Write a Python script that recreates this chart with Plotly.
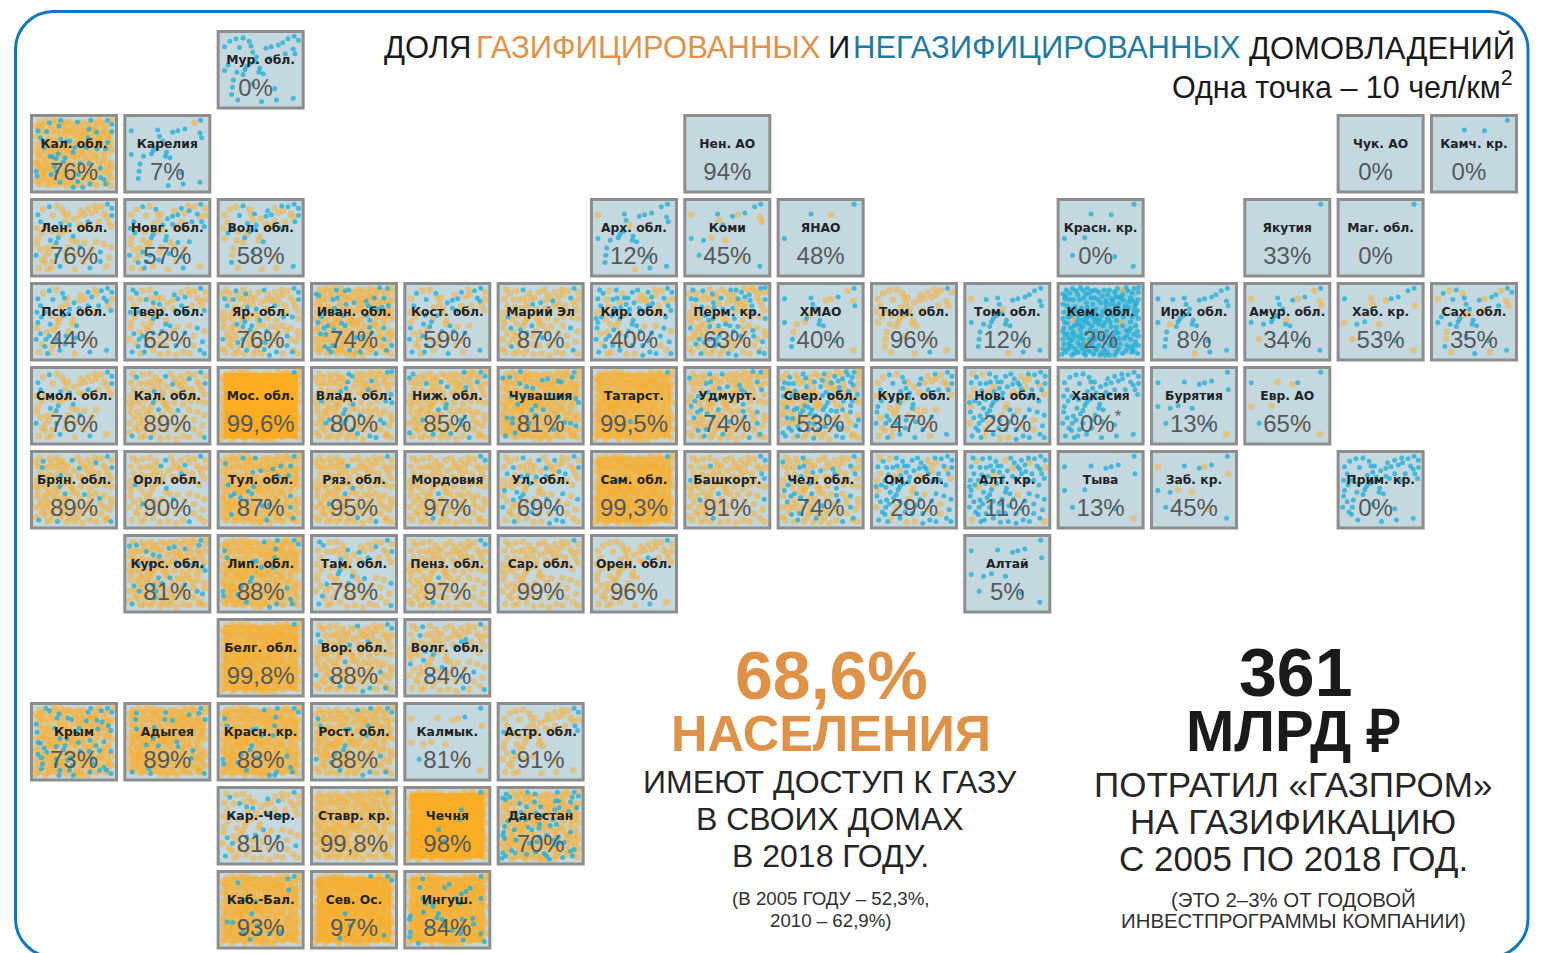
import plotly.graph_objects as go

# ---- data ----
cell_names = [
    "Мур. обл.",
    "Кал. обл.", "Карелия", "Нен. АО", "Чук. АО", "Камч. кр.",
    "Лен. обл.", "Новг. обл.", "Вол. обл.", "Арх. обл.", "Коми", "ЯНАО", "Красн. кр.", "Якутия", "Маг. обл.",
    "Пск. обл.", "Твер. обл.", "Яр. обл.", "Иван. обл.", "Кост. обл.", "Марий Эл", "Кир. обл.", "Перм. кр.",
    "ХМАО", "Тюм. обл.", "Том. обл.", "Кем. обл.", "Ирк. обл.", "Амур. обл.", "Хаб. кр.", "Сах. обл.",
    "Смол. обл.", "Кал. обл.", "Мос. обл.", "Влад. обл.", "Ниж. обл.", "Чувашия", "Татарст.", "Удмурт.",
    "Свер. обл.", "Кург. обл.", "Нов. обл.", "Хакасия", "Бурятия", "Евр. АО",
    "Брян. обл.", "Орл. обл.", "Тул. обл.", "Ряз. обл.", "Мордовия", "Ул. обл.", "Сам. обл.", "Башкорт.",
    "Чел. обл.", "Ом. обл.", "Алт. кр.", "Тыва", "Заб. кр.", "Прим. кр.",
    "Курс. обл.", "Лип. обл.", "Там. обл.", "Пенз. обл.", "Сар. обл.", "Орен. обл.", "Алтай",
    "Белг. обл.", "Вор. обл.", "Волг. обл.",
    "Крым", "Адыгея", "Красн. кр.", "Рост. обл.", "Калмык.", "Астр. обл.",
    "Кар.-Чер.", "Ставр. кр.", "Чечня", "Дагестан",
    "Каб.-Бал.", "Сев. Ос.", "Ингуш.",
]
cell_rows = [0] + [1]*5 + [2]*9 + [3]*16 + [4]*14 + [5]*14 + [6]*7 + [7]*3 + [8]*6 + [9]*4 + [10]*3
cell_cols = [
    2,
    0, 1, 7, 14, 15,
    0, 1, 2, 6, 7, 8, 11, 13, 14,
    0, 1, 2, 3, 4, 5, 6, 7, 8, 9, 10, 11, 12, 13, 14, 15,
    0, 1, 2, 3, 4, 5, 6, 7, 8, 9, 10, 11, 12, 13,
    0, 1, 2, 3, 4, 5, 6, 7, 8, 9, 10, 11, 12, 14,
    1, 2, 3, 4, 5, 6, 10,
    2, 3, 4,
    0, 1, 2, 3, 4, 5,
    2, 3, 4, 5,
    2, 3, 4,
]
gas_share = [
    0,
    76, 7, 94, 0, 0,
    76, 57, 58, 12, 45, 48, 0, 33, 0,
    44, 62, 76, 74, 59, 87, 40, 63, 40, 96, 12, 2, 8, 34, 53, 35,
    76, 89, 99.6, 80, 85, 81, 99.5, 74, 53, 47, 29, 0, 13, 65,
    89, 90, 87, 95, 97, 69, 99.3, 91, 74, 29, 11, 13, 45, 0,
    81, 88, 78, 97, 99, 96, 5,
    99.8, 88, 84,
    73, 89, 88, 88, 81, 91,
    81, 99.8, 98, 70,
    93, 97, 84,
]
# how many dots each cell shows (by eye)
dot_counts = [
    40,
    200, 26, 0, 0, 3,
    80, 75, 55, 26, 18, 4, 8, 1, 1,
    70, 90, 130, 190, 75, 110, 100, 140, 24, 50, 30, 215, 30, 22, 16, 40,
    75, 110, 215, 140, 140, 200, 215, 140, 160, 75, 100, 70, 14, 10,
    130, 100, 200, 130, 120, 100, 215, 110, 130, 100, 100, 12, 14, 60,
    150, 200, 90, 110, 100, 70, 14,
    215, 120, 100,
    215, 200, 215, 160, 14, 65,
    90, 160, 215, 215,
    215, 215, 215,
]
# how solid the colour reads behind the dots in the densest cells (by eye)
density_tint = [
    0,
    .30, 0, 0, 0, 0,
    0, 0, 0, 0, 0, 0, 0, 0, 0,
    0, 0, 0, .20, 0, 0, 0, 0, 0, 0, 0, .30, 0, 0, 0, 0,
    0, .05, 1.0, .10, .10, .30, .55, .10, 0, 0, 0, 0, 0, 0,
    .10, 0, .30, .10, .05, 0, .60, .05, 0, 0, 0, 0, 0, 0,
    .15, .35, 0, .05, 0, 0, 0,
    .60, .15, 0,
    .30, .40, .45, .20, 0, 0,
    0, .25, .95, .20,
    .50, .75, .70,
]
# positions inside a cell (0-1); the source reuses one layout, sparse cells show its first dots
dot_layout = [
    (.88,.08),(.39,.20),(.62,.21),(.09,.51),(.32,.50),(.18,.72),(.66,.74),(.87,.86),
    (.09,.21),(.56,.23),(.70,.19),(.89,.30),(.23,.53),(.48,.53),
    (.81,.11),(.41,.28),(.45,.34),(.87,.24),(.34,.46),(.38,.42),(.49,.48),(.53,.55),(.19,.63),(.17,.81),(.51,.90),(.68,.88),
    (.26,.22),(.75,.16),(.44,.40),(.30,.56),(.13,.44),(.60,.36),(.78,.30),(.93,.13),(.24,.88),(.41,.68),
    (.15,.14),(.22,.11),(.30,.10),(.37,.14),(.43,.20),(.12,.30),(.17,.38),(.25,.42),(.08,.38),(.35,.32),
    (.50,.26),(.58,.16),(.66,.13),(.74,.10),(.66,.30),(.56,.33),(.72,.38),(.84,.20),(.93,.22),(.92,.36),
    (.08,.58),(.12,.65),(.07,.72),(.14,.78),(.22,.68),(.27,.60),(.30,.72),(.10,.88),(.20,.90),(.26,.80),
    (.34,.86),(.40,.78),(.44,.62),(.52,.70),(.57,.62),(.60,.80),(.62,.56),(.70,.64),(.75,.55),(.80,.68),
    (.84,.58),(.92,.62),(.90,.75),(.80,.80),(.75,.90),(.92,.90),(.42,.91),(.60,.92),(.34,.64),(.48,.80),
    (.11,.10),(.19,.22),(.31,.20),(.34,.26),(.48,.13),(.54,.10),(.64,.24),(.71,.27),(.80,.38),(.86,.44),
    (.28,.33),(.21,.31),(.07,.46),(.18,.47),(.40,.55),(.46,.46),(.58,.46),(.68,.48),(.76,.44),(.93,.46),
    (.07,.84),(.16,.58),(.24,.76),(.31,.90),(.37,.72),(.45,.86),(.55,.76),(.65,.68),(.72,.78),(.84,.72),
    (.86,.88),(.93,.68),(.79,.61),(.68,.57),(.54,.85),(.36,.80),(.13,.70),(.20,.55),(.29,.48),(.38,.60),
    (.07,.15),(.14,.22),(.24,.16),(.33,.15),(.44,.10),(.52,.18),(.60,.10),(.69,.08),(.79,.07),(.93,.07),
    (.86,.14),(.76,.23),(.70,.33),(.61,.28),(.52,.37),(.41,.35),(.31,.38),(.22,.36),(.07,.28),(.15,.34),
    (.82,.32),(.90,.41),(.84,.50),(.73,.52),(.64,.42),(.55,.51),(.44,.50),(.36,.52),(.26,.54),(.12,.52),
    (.07,.62),(.18,.66),(.28,.66),(.43,.73),(.49,.64),(.60,.69),(.67,.62),(.77,.71),(.88,.66),(.93,.80),
    (.84,.82),(.70,.84),(.65,.80),(.57,.88),(.49,.92),(.38,.87),(.29,.84),(.21,.84),(.13,.84),(.08,.78),
    (.10,.17),(.18,.08),(.27,.07),(.35,.08),(.40,.11),(.47,.22),(.56,.27),(.67,.19),(.73,.20),(.82,.25),
    (.91,.27),(.88,.36),(.77,.34),(.68,.40),(.61,.50),(.51,.42),(.42,.46),(.33,.42),(.24,.48),(.16,.42),
    (.09,.66),(.16,.74),(.26,.70),(.35,.76),(.46,.70),(.55,.68),(.62,.75),(.71,.71),(.82,.62),(.90,.55),
    (.88,.80),(.79,.86),(.66,.92),(.55,.92),(.44,.83),(.33,.92),(.17,.92),(.06,.91),(.30,.78),(.75,.62),
]
# word, left edge in page pixels, colour
header_parts = [("ДОЛЯ", 382, "#1a1a1a"), ("ГАЗИФИЦИРОВАННЫХ", 474, "#df9247"), ("И", 826, "#1a1a1a"),
                ("НЕГАЗИФИЦИРОВАННЫХ", 851, "#1f7c9e"), ("ДОМОВЛАДЕНИЙ", 1247, "#1a1a1a")]
header_note = "Одна точка – 10 чел/км<sup>2</sup>"
# text, centre x in page pixels, centre y, size, bold, colour
text_lines = [
    ("68,6%", 831, 675, 68, True, "#df9247"),
    ("НАСЕЛЕНИЯ", 831, 733, 50.5, True, "#df9247"),
    ("ИМЕЮТ ДОСТУП К ГАЗУ", 830, 782, 32, False, "#262626"),
    ("В СВОИХ ДОМАХ", 830, 819, 32, False, "#262626"),
    ("В 2018 ГОДУ.", 830, 856, 32, False, "#262626"),
    ("(В 2005 ГОДУ – 52,3%,", 831, 898, 18.7, False, "#303030"),
    ("2010 – 62,9%)", 831, 920, 18.7, False, "#303030"),
    ("361", 1295, 672, 68, True, "#1a1a1a"),
    ("МЛРД ₽", 1293, 730, 58, True, "#1a1a1a"),
    ("ПОТРАТИЛ «ГАЗПРОМ»", 1293, 784, 35, False, "#262626"),
    ("НА ГАЗИФИКАЦИЮ", 1293, 821, 35, False, "#262626"),
    ("С 2005 ПО 2018 ГОД.", 1293, 858, 35, False, "#262626"),
    ("(ЭТО 2–3% ОТ ГОДОВОЙ", 1293, 899, 20.4, False, "#303030"),
    ("ИНВЕСТПРОГРАММЫ КОМПАНИИ)", 1293, 921, 20.4, False, "#303030"),
]
footnoted = ["Хакасия"]

# ---- layout constants ----
W, H = 1543, 953
COL_PX, ROW_PX = 93.33, 84.0
LEFT_PX, TOP_PX = 30.0, 30.0
CELL_W, CELL_H = 88 / COL_PX, 79.5 / ROW_PX
SANS = "Arial, Liberation Sans, sans-serif"
ORANGE, BLUE = "rgba(252,172,40,0.50)", "rgba(28,172,214,0.75)"


def px(x):
    return x / W


def py(y):
    return 1 - y / H


# ---- build marks ----
shapes, ox, oy, bx, by = [], [], [], [], []
for col, row, share, count, tint in zip(cell_cols, cell_rows, gas_share, dot_counts, density_tint):
    b_x, b_y = 1.5 / COL_PX, 1.5 / ROW_PX
    shapes.append(dict(type="rect", xref="x", yref="y", layer="below",
                       x0=col + b_x, x1=col + CELL_W - b_x, y0=row + b_y, y1=row + CELL_H - b_y,
                       fillcolor="#c4d8df", line=dict(color="#8d8d8d", width=3)))
    if tint:
        colour = "#fcae1e" if share > 50 else "#12a5d0"
        i_x, i_y = 7 / COL_PX, 7 / ROW_PX
        shapes.append(dict(type="rect", xref="x", yref="y", layer="below",
                           x0=col + i_x, x1=col + CELL_W - i_x, y0=row + i_y, y1=row + CELL_H - i_y,
                           fillcolor=colour, opacity=tint, line=dict(width=0)))
    s = share / 100
    for i, (fx, fy) in enumerate(dot_layout[:count]):
        x, y = col + fx * CELL_W, row + fy * CELL_H
        if int((i + 1) * s) > int(i * s):
            ox.append(x); oy.append(y)
        else:
            bx.append(x); by.append(y)

frame_l, frame_r, frame_t, frame_b, r = 15.5, 1528, 11.5, 957, 38
k = r * 0.45
frame = (
    f"M {px(frame_l)},{py(frame_t + r)} "
    f"C {px(frame_l)},{py(frame_t + k)} {px(frame_l + k)},{py(frame_t)} {px(frame_l + r)},{py(frame_t)} "
    f"L {px(frame_r - r)},{py(frame_t)} "
    f"C {px(frame_r - k)},{py(frame_t)} {px(frame_r)},{py(frame_t + k)} {px(frame_r)},{py(frame_t + r)} "
    f"L {px(frame_r)},{py(frame_b - r)} "
    f"C {px(frame_r)},{py(frame_b - k)} {px(frame_r - k)},{py(frame_b)} {px(frame_r - r)},{py(frame_b)} "
    f"L {px(frame_l + r)},{py(frame_b)} "
    f"C {px(frame_l + k)},{py(frame_b)} {px(frame_l)},{py(frame_b - k)} {px(frame_l)},{py(frame_b - r)} Z"
)
shapes.append(dict(type="path", xref="paper", yref="paper", layer="below", path=frame,
                   line=dict(color="#0f78bf", width=3)))


def pct_label(name, v):
    label = f"{v:g}".replace(".", ",") + "%"
    return label + "<sup>*</sup>" if name in footnoted else label


centre_x = [c + CELL_W / 2 for c in cell_cols]
pct_x = [c + CELL_W / 2 - (0.054 if (v == 0 and n not in footnoted) else 0)
         for c, v, n in zip(cell_cols, gas_share, cell_names)]

fig = go.Figure()
fig.add_trace(go.Scatter(x=ox, y=oy, mode="markers", hoverinfo="skip",
                         marker=dict(size=6.5, color=ORANGE, line=dict(width=0))))
fig.add_trace(go.Scatter(x=bx, y=by, mode="markers", hoverinfo="skip",
                         marker=dict(size=5, color=BLUE, line=dict(width=0))))
fig.add_trace(go.Scatter(x=centre_x, y=[r_ + 31 / ROW_PX for r_ in cell_rows], mode="text",
                         text=cell_names, textposition="middle center", hoverinfo="skip",
                         textfont=dict(family="DejaVu Sans", size=12.3, color="#1f2326", weight="bold")))
fig.add_trace(go.Scatter(x=pct_x, y=[r_ + 60 / ROW_PX for r_ in cell_rows], mode="text",
                         text=[pct_label(n, v) for n, v in zip(cell_names, gas_share)],
                         textposition="middle center", hoverinfo="skip",
                         textfont=dict(family=SANS, size=24, color="#55585a")))

annotations = [
    dict(xref="paper", yref="paper", x=px(1515), y=py(85), xanchor="right", yanchor="middle", showarrow=False,
         text=header_note, font=dict(family=SANS, size=30.5, color="#1a1a1a")),
]
for word, x, colour in header_parts:
    annotations.append(dict(xref="paper", yref="paper", x=px(x), y=py(48), xanchor="left", yanchor="middle",
                            showarrow=False, text=word, font=dict(family=SANS, size=31, color=colour)))
for text, x, y, size, bold, colour in text_lines:
    annotations.append(dict(xref="paper", yref="paper", x=px(x), y=py(y), xanchor="center", yanchor="middle",
                            showarrow=False, text=f"<b>{text}</b>" if bold else text,
                            font=dict(family=SANS, size=size, color=colour)))

fig.update_layout(
    width=W, height=H, margin=dict(l=0, r=0, t=0, b=0), showlegend=False,
    paper_bgcolor="white", plot_bgcolor="white", shapes=shapes, annotations=annotations,
    xaxis=dict(visible=False, range=[-LEFT_PX / COL_PX, (W - LEFT_PX) / COL_PX], fixedrange=True),
    yaxis=dict(visible=False, range=[(H - TOP_PX) / ROW_PX, -TOP_PX / ROW_PX], fixedrange=True),
)
fig.write_html("out.html", config=dict(displayModeBar=False),
               post_script="document.body.style.margin='0';document.body.style.overflow='hidden';")
